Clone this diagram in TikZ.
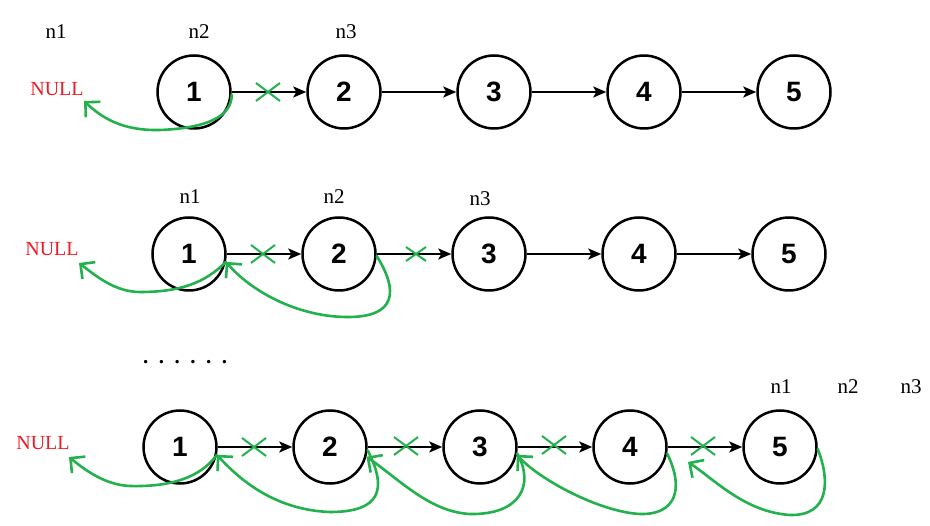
\documentclass[tikz,border=0pt]{standalone}
\usepackage{fontspec}
\setmainfont{Liberation Serif}
\setsansfont{Liberation Sans}
\usetikzlibrary{arrows.meta, shapes.misc}
\definecolor{hand}{RGB}{34,177,76}
\definecolor{nullred}{RGB}{237,28,36}

\begin{document}
\begin{tikzpicture}[x=1pt, y=-1pt,
  nd/.style={circle, draw, line width=2.5pt, minimum size=73pt, inner sep=0pt, font=\fontsize{28}{28}\sffamily\bfseries},
  link/.style={-{Stealth[length=13pt, width=11pt, inset=3pt]}, line width=2pt},
  ptr/.style={font=\fontsize{21}{21}\selectfont},
  nul/.style={font=\fontsize{20}{20}\selectfont, text=nullred},
  back/.style={draw=hand, line width=2.6pt, line cap=round, -{Straight Barb[angle=90:15pt]}},
  cut/.style={cross out, draw=hand, line width=2pt, minimum width=22pt, minimum height=16pt, inner sep=0pt}
]
\useasboundingbox (0,0) rectangle (930,526);

% 第一行：初始状态
\node[nd] (a1) at (194,92) {1};
\node[nd] (a2) at (344,92) {2};
\node[nd] (a3) at (494,92) {3};
\node[nd] (a4) at (644,92) {4};
\node[nd] (a5) at (794,92) {5};
\draw[link] (a1) -- (a2);
\draw[link] (a2) -- (a3);
\draw[link] (a3) -- (a4);
\draw[link] (a4) -- (a5);

\node[ptr] (an1) at (56,32) {n1};
\node[ptr] (an2) at (199,32) {n2};
\node[ptr] (an3) at (346,32) {n3};
\node[nul] (nulla) at (57,89) {NULL};

% 第一行：反转 1
\node[cut] (xa1) at (268,92) {};
\coordinate (ta) at (84,101);
\draw[back] (a1.-4) .. controls (232,115) and (210,128) .. (160,130) .. controls (120,131) and (100,116) .. (ta);

% 第二行
\node[nd] (b1) at (189,254) {1};
\node[nd] (b2) at (339,254) {2};
\node[nd] (b3) at (489,254) {3};
\node[nd] (b4) at (639,254) {4};
\node[nd] (b5) at (789,254) {5};
\draw[link] (b1) -- (b2);
\draw[link] (b2) -- (b3);
\draw[link] (b3) -- (b4);
\draw[link] (b4) -- (b5);

\node[ptr] (bn1) at (190,197) {n1};
\node[ptr] (bn2) at (334,197) {n2};
\node[ptr] (bn3) at (480,199) {n3};
\node[nul] (nullb) at (52,249) {NULL};

% 第二行：反转 1、2
\node[cut] (xb1) at (263,254) {};
\node[cut, minimum width=18pt, minimum height=12pt] (xb2) at (416,254) {};
\coordinate (tb) at (79,263);
\draw[back] (b1.-12) .. controls (205,283) and (180,292) .. (140,292) .. controls (115,292) and (96,276) .. (tb);
\draw[back] (b2.-3) .. controls (398,290) and (398,318) .. (345,317) .. controls (295,316) and (250,290) .. (b1.-12);

% 省略
\node[ptr] (dots) at (185,362) {\textbf{.\enspace.\enspace.\enspace.\enspace.\enspace.}};

% 第三行：最终状态
\node[nd] (c1) at (180,447) {1};
\node[nd] (c2) at (330,447) {2};
\node[nd] (c3) at (480,447) {3};
\node[nd] (c4) at (630,447) {4};
\node[nd] (c5) at (780,447) {5};
\draw[link] (c1) -- (c2);
\draw[link] (c2) -- (c3);
\draw[link] (c3) -- (c4);
\draw[link] (c4) -- (c5);

\node[ptr] (cn1) at (781,387) {n1};
\node[ptr] (cn2) at (848,387) {n2};
\node[ptr] (cn3) at (911,387) {n3};
\node[nul] (nullc) at (43,443) {NULL};

% 第三行：全部反转
\node[cut] (xc1) at (254,447) {};
\node[cut] (xc2) at (406,446) {};
\node[cut] (xc3) at (554,445) {};
\node[cut] (xc4) at (703,446) {};
\coordinate (tc) at (69,457);
\coordinate (tc4) at (688,462);
\draw[back] (c1.-12) .. controls (200,478) and (170,487) .. (130,486) .. controls (105,485) and (85,470) .. (tc);
\draw[back] (c2.-5) .. controls (388,490) and (380,512) .. (330,512) .. controls (275,510) and (240,480) .. (c1.-12);
\draw[back] (c3.-10) .. controls (535,485) and (520,515) .. (470,514) .. controls (430,512) and (400,480) .. (c2.-15);
\draw[back] (c4.-10) .. controls (685,490) and (675,515) .. (640,514) .. controls (600,512) and (540,480) .. (c3.-12);
\draw[back] (c5.-3) .. controls (830,480) and (830,516) .. (790,515) .. controls (745,512) and (715,480) .. (tc4);

\end{tikzpicture}
\end{document}
